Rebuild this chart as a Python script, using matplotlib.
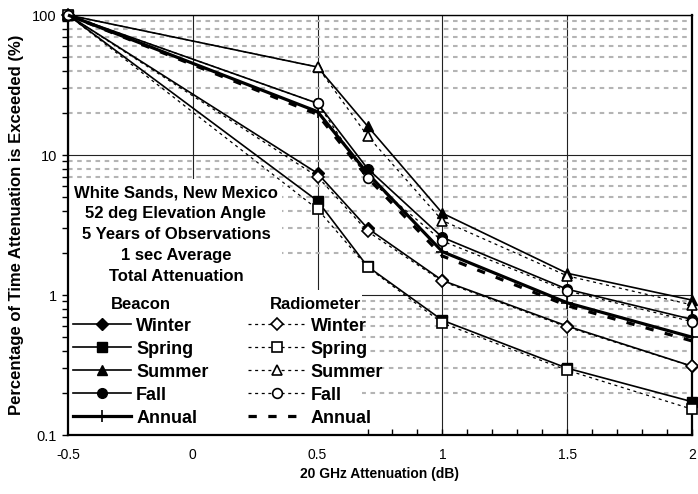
import numpy as np
import matplotlib
matplotlib.use("Agg")
import matplotlib.pyplot as plt
from matplotlib.lines import Line2D
from matplotlib.patches import Rectangle

plt.rcParams['font.family'] = ['Liberation Sans', 'DejaVu Sans']

# attenuation (dB)
atten = [-0.5, 0.5, 0.7, 1.0, 1.5, 2.0]

# beacon, % of time exceeded
bcn_winter = [100, 7.4, 3.0, 1.27, 0.60, 0.31]
bcn_spring = [100, 4.7, 1.6, 0.66, 0.30, 0.173]
bcn_summer = [100, 42.5, 16.1, 3.84, 1.43, 0.92]
bcn_fall = [100, 23.4, 8.0, 2.58, 1.10, 0.67]
bcn_annual = [100, 20.4, 7.4, 2.04, 0.88, 0.50]

# radiometer, % of time exceeded
rad_winter = [100, 7.0, 2.85, 1.25, 0.59, 0.31]
rad_spring = [100, 4.1, 1.58, 0.63, 0.29, 0.153]
rad_summer = [100, 42.5, 13.7, 3.4, 1.37, 0.85]
rad_fall = [100, 23.4, 6.8, 2.43, 1.07, 0.645]
rad_annual = [100, 19.5, 6.9, 1.9, 0.84, 0.47]

seasons = ['Winter', 'Spring', 'Summer', 'Fall']
markers = ['D', 's', '^', 'o']
msizes = [6, 7, 7.5, 7]

info_lines = ['White Sands, New Mexico', '52 deg Elevation Angle',
              '5 Years of Observations', '1 sec Average', 'Total Attenuation']

fig = plt.figure(figsize=(6.98, 4.94), dpi=100)
ax = fig.add_axes([0.0974, 0.1194, 0.894, 0.8502])

ax.set_yscale('log')
ax.set_xlim(-0.5, 2)
ax.set_ylim(0.1, 100)

# grid
ax.set_axisbelow(True)
ax.yaxis.grid(True, which='major', color='#222222', lw=0.8)
ax.xaxis.grid(True, which='major', color='#222222', lw=0.8)
ax.yaxis.grid(True, which='minor', color='#b4b4b4', lw=1.5, linestyle=(0, (2.2, 2.2)))

# white boxes behind the text and legend
ax.add_patch(Rectangle((0, 0.335), 0.343, 0.275, transform=ax.transAxes,
                       facecolor='white', edgecolor='none', zorder=1))
ax.add_patch(Rectangle((0, 0.002), 0.471, 0.343, transform=ax.transAxes,
                       facecolor='white', edgecolor='none', zorder=1))

bcn = [bcn_winter, bcn_spring, bcn_summer, bcn_fall]
rad = [rad_winter, rad_spring, rad_summer, rad_fall]

dot = (0, (2.4, 2.9))
bh, rh = [], []
for s, m, ms, yb in zip(seasons, markers, msizes, bcn):
    ax.plot(atten, yb, color='black', lw=1.2, marker=m, ms=ms, mfc='black',
            mec='black', clip_on=False, zorder=3)
    bh.append(Line2D([], [], color='black', lw=1.2, marker=m, ms=ms, mfc='black',
                     mec='black', label=s))
ax.plot(atten, bcn_annual, color='black', lw=2.3, marker='+', ms=9, mew=1.2,
        clip_on=False, zorder=3)
bh.append(Line2D([], [], color='black', lw=2.3, marker='+', ms=9, mew=1.2, label='Annual'))

for s, m, ms, yr in zip(seasons, markers, msizes, rad):
    ax.plot(atten, yr, color='black', lw=0.9, linestyle=dot, marker=m, ms=ms,
            mfc='white', mec='black', mew=1.2, clip_on=False, zorder=4)
    rh.append(Line2D([], [], color='black', lw=0.9, linestyle=dot, marker=m, ms=ms,
                     mfc='white', mec='black', mew=1.2, label=s))
ax.plot(atten, rad_annual, color='black', lw=2.3, linestyle=(0, (2.6, 3.6)),
        clip_on=False, zorder=4)
rh.append(Line2D([], [], color='black', lw=2.3, linestyle=(0, (2.6, 3.6)), label='Annual'))

leg_kw = dict(loc='upper left', frameon=False, borderpad=0, borderaxespad=0,
              handlelength=3.2, handletextpad=0.3, labelspacing=0.33, numpoints=1,
              prop={'weight': 'bold', 'size': 13},
              title_fontproperties={'weight': 'bold', 'size': 12})
leg1 = ax.legend(handles=bh, title='Beacon', bbox_to_anchor=(0.008, 0.329), **leg_kw)
leg1.set_zorder(6)
ax.add_artist(leg1)
leg2 = ax.legend(handles=rh, title='Radiometer', bbox_to_anchor=(0.288, 0.329), **leg_kw)
leg2.set_zorder(6)

for i, t in enumerate(info_lines):
    ax.text(0.173, 0.576 - i * 0.0494, t, transform=ax.transAxes, ha='center',
            va='center', fontsize=12, fontweight='bold', zorder=6)

# ticks
ax.set_xticks(np.arange(-0.5, 2.01, 0.5))
ax.set_xticklabels(['-0.5', '0', '0.5', '1', '1.5', '2'])
ax.set_xticks(np.arange(-0.5, 2.01, 0.1), minor=True)
ax.set_yticks([0.1, 1, 10, 100])
ax.set_yticklabels(['0.1', '1', '10', '100'])
ax.tick_params(axis='x', which='both', direction='in', length=4, width=1,
               labelsize=10, pad=9)
ax.tick_params(axis='y', which='both', direction='out', length=4, width=1,
               labelsize=10.5, pad=4)

for sp in ax.spines.values():
    sp.set_linewidth(1.6)
ax.spines['top'].set_linewidth(1.0)

ax.set_xlabel('20 GHz Attenuation (dB)', fontsize=10, fontweight='bold', labelpad=4)
ax.set_ylabel('Percentage of Time Attenuation is Exceeded (%)', fontsize=12,
              fontweight='bold', labelpad=6)

fig.savefig('out.png', dpi=100)
